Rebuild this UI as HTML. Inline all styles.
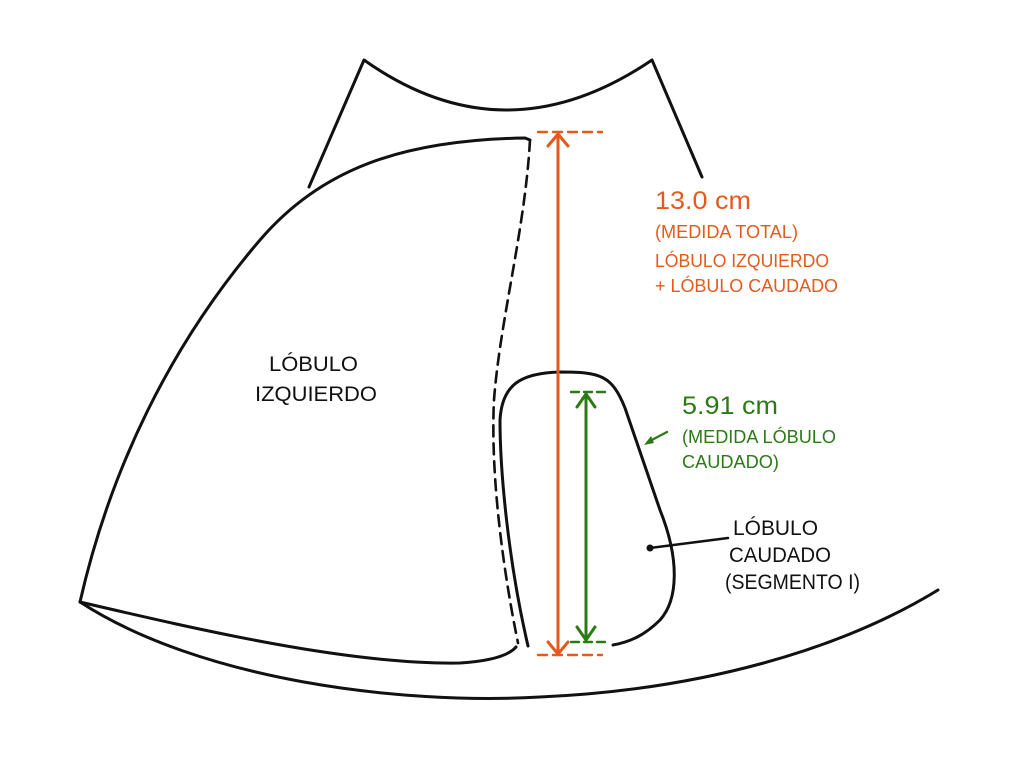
<!DOCTYPE html>
<html><head><meta charset="utf-8"><style>
html,body{margin:0;padding:0;background:#fff;width:1024px;height:768px;overflow:hidden}
svg{display:block}
text{font-family:"Liberation Sans","DejaVu Sans",sans-serif}
</style></head><body>
<svg width="1024" height="768" viewBox="0 0 1024 768" xmlns="http://www.w3.org/2000/svg">
<g fill="none" stroke="#111" stroke-width="3" stroke-linecap="round" stroke-linejoin="round">
  <path d="M309,187 L364,60 Q505,160 652,60 L702,177"/>
  <path d="M530,140 L525,138 C400,140 320,170 260,240 C170,345 110,470 80,602"/>
  <path d="M80,602 C200,630 350,665 460,663 Q505,660 516,647"/>
  <path d="M80,602 C200,680 400,705 540,697 C700,690 840,650 938,590"/>
  <path d="M530,140 C525,230 500,320 494,400 C490,480 505,580 518,643" stroke-dasharray="11,7" stroke-width="2.6"/>
  <path d="M528,646 C508,560 500,470 500,420 C502,385 520,373 560,372 C600,372 612,375 625,408 L660,510 C680,560 678,600 660,620 C645,635 630,642 613,645"/>
  <path d="M650,548 L728,538" stroke-width="2.5"/>
</g>
<circle cx="650" cy="548" r="3.5" fill="#111"/>
<g stroke="#e35a1c" stroke-width="3" fill="none" stroke-linecap="round">
  <line x1="558" y1="134" x2="558" y2="654"/>
  <path d="M548,146 L558,134 L568,146"/>
  <path d="M548,642 L558,654 L568,642"/>
  <line x1="538" y1="132" x2="602" y2="132" stroke-dasharray="9,6" stroke-width="2.4"/>
  <line x1="538" y1="655" x2="602" y2="655" stroke-dasharray="9,6" stroke-width="2.4"/>
</g>
<g stroke="#2b7a16" stroke-width="3" fill="none" stroke-linecap="round">
  <line x1="586" y1="394" x2="586" y2="640"/>
  <path d="M577,407 L586,394 L595,407"/>
  <path d="M577,627 L586,640 L595,627"/>
  <line x1="571" y1="392" x2="607" y2="392" stroke-dasharray="8,5" stroke-width="2.4"/>
  <line x1="571" y1="642" x2="607" y2="642" stroke-dasharray="8,5" stroke-width="2.4"/>
  <line x1="667" y1="432" x2="648" y2="442" stroke-width="2.4"/>
</g>
<path d="M644,445 L651,436 L654,443 Z" fill="#2b7a16"/>
<g fill="#e35a1c">
  <text x="655" y="209" font-size="25" textLength="96" lengthAdjust="spacingAndGlyphs">13.0 cm</text>
  <text x="655" y="238" font-size="18" textLength="143" lengthAdjust="spacingAndGlyphs">(MEDIDA TOTAL)</text>
  <text x="655" y="267" font-size="18" textLength="174" lengthAdjust="spacingAndGlyphs">LÓBULO IZQUIERDO</text>
  <text x="655" y="292" font-size="18" textLength="183" lengthAdjust="spacingAndGlyphs">+ LÓBULO CAUDADO</text>
</g>
<g fill="#2b7a16">
  <text x="682" y="414" font-size="25" textLength="96" lengthAdjust="spacingAndGlyphs">5.91 cm</text>
  <text x="682" y="443" font-size="18" textLength="154" lengthAdjust="spacingAndGlyphs">(MEDIDA LÓBULO</text>
  <text x="682" y="468" font-size="18" textLength="97" lengthAdjust="spacingAndGlyphs">CAUDADO)</text>
</g>
<g fill="#111" font-size="21">
  <text x="269" y="371" textLength="89" lengthAdjust="spacingAndGlyphs">LÓBULO</text>
  <text x="255" y="401" textLength="122" lengthAdjust="spacingAndGlyphs">IZQUIERDO</text>
  <text x="733" y="535" textLength="85" lengthAdjust="spacingAndGlyphs">LÓBULO</text>
  <text x="729" y="562" textLength="102" lengthAdjust="spacingAndGlyphs">CAUDADO</text>
  <text x="725" y="589" textLength="135" lengthAdjust="spacingAndGlyphs">(SEGMENTO I)</text>
</g>
</svg>
</body></html>
